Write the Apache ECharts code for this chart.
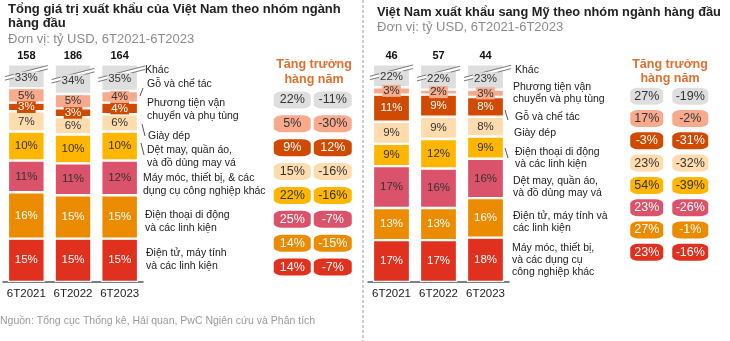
<!DOCTYPE html>
<html>
<head>
<meta charset="utf-8">
<script src="https://cdn.jsdelivr.net/npm/echarts@6/dist/echarts.min.js"></script>
<style>
  html, body { margin: 0; padding: 0; background: #fff; }
  #c { width: 730px; height: 341px; }
</style>
</head>
<body>
<div id="c"></div>
<script>
// ---- Data -------------------------------------------------------------
const years = ['6T2021', '6T2022', '6T2023'];

// Việt Nam: tổng xuất khẩu (tỷ USD) và cơ cấu theo nhóm ngành (%)
const vnTotals = [158, 186, 164];
const vnGroups = [
  'Khác',
  'Gỗ và chế tác',
  'Phương tiện vận\nchuyển và phụ tùng',
  'Giày dép',
  'Dệt may, quần áo,\nvà đồ dùng may vá',
  'Máy móc, thiết bị, & các\ndụng cụ công nghiệp khác',
  'Điện thoại di động\nvà các linh kiện',
  'Điện tử, máy tính\nvà các linh kiện'
];
const vnOther       = [33, 34, 35];
const vnWood        = [5, 5, 4];
const vnVehicles    = [3, 3, 4];
const vnFootwear    = [7, 6, 6];
const vnTextile     = [10, 10, 10];
const vnMachinery   = [11, 11, 12];
const vnPhones      = [16, 15, 15];
const vnElectronics = [15, 15, 15];
const vnGrowth22 = [22, 5, 9, 15, 22, 25, 14, 14];
const vnGrowth23 = [-11, -30, 12, -16, -16, -7, -15, -7];

// Xuất khẩu sang Mỹ: tổng (tỷ USD) và cơ cấu (%)
const usTotals = [46, 57, 44];
const usGroups = [
  'Khác',
  'Phương tiện vận\nchuyển và phụ tùng',
  'Gỗ và chế tác',
  'Giày dép',
  'Điện thoại di động\nvà các linh kiện',
  'Dệt may, quần áo,\nvà đồ dùng may vá',
  'Điện tử, máy tính và\ncác linh kiện',
  'Máy móc, thiết bị,\nvà các dụng cụ\ncông nghiệp khác'
];
const usOther       = [22, 22, 23];
const usVehicles    = [3, 2, 3];
const usWood        = [11, 9, 8];
const usFootwear    = [9, 9, 8];
const usPhones      = [9, 12, 9];
const usTextile     = [17, 16, 16];
const usElectronics = [13, 13, 16];
const usMachinery   = [17, 17, 18];
const usGrowth22 = [27, 17, -3, 23, 54, 23, 27, 23];
const usGrowth23 = [-19, -2, -31, -32, -39, -26, -1, -16];

// stack order, top segment first
const vnShares = [vnOther, vnWood, vnVehicles, vnFootwear, vnTextile, vnMachinery, vnPhones, vnElectronics];
const usShares = [usOther, usVehicles, usWood, usFootwear, usPhones, usTextile, usElectronics, usMachinery];

// ---- Styling ----------------------------------------------------------
const FONT = '"Liberation Sans", Arial, sans-serif';
const palette    = ['#DEDEDE', '#F7AA8C', '#D04A02', '#FEDCAE', '#FFB600', '#DB536A', '#EB8C00', '#E0301E'];
const barText    = ['#333', '#333', '#fff', '#333', '#333', '#333', '#fff', '#fff'];
const growthText = ['#333', '#333', '#fff', '#333', '#333', '#fff', '#fff', '#fff'];
const BAR_W = 0.79;

function barSeries(shares, xIdx, yIdx, stack) {
  const out = [];
  for (let k = shares.length - 1; k >= 0; k--) {
    out.push({
      type: 'bar', stack: stack, xAxisIndex: xIdx, yAxisIndex: yIdx,
      barWidth: (BAR_W * 100) + '%',
      data: shares[k],
      itemStyle: { color: palette[k], borderColor: '#fff', borderWidth: 1.2 },
      label: k === 0 ? { show: false } : {
        show: true, position: 'inside', formatter: '{c}%',
        fontFamily: FONT, fontSize: 11.5, color: barText[k],
        backgroundColor: palette[k], padding: [0, 1]
      },
      emphasis: { disabled: true }
    });
  }
  return out;
}

// break marks and value label on the truncated "Khác" segment
function breakSeries(shares, xIdx, yIdx) {
  const lastIdx = years.length - 1;
  return {
    type: 'custom', xAxisIndex: xIdx, yAxisIndex: yIdx, z: 5, clip: false,
    data: years.map((_, i) => [i, shares.slice(1).reduce((s, arr) => s + arr[i], 0), shares[0][i]]),
    renderItem: function (params, api) {
      const base = api.coord([api.value(0), api.value(1)]);
      const top = params.coordSys.y;
      const half = api.size([1, 0])[0] * BAR_W / 2;
      const xc = base[0];
      const yc = (base[1] + top) / 2;
      const xl = xc - half - 3;
      const xr = xc + half + (params.dataIndex === lastIdx ? 7 : 3);
      const slope = 0.26, gap = 3.5, ym = yc - 2;
      const yl = ym + slope * (xc - xl);
      const yr = ym - slope * (xr - xc);
      const lineStyle = { stroke: '#7a7a7a', lineWidth: 1 };
      return {
        type: 'group',
        children: [
          { type: 'polygon', shape: { points: [[xl, yl - gap], [xr, yr - gap], [xr, yr], [xl, yl]] }, style: { fill: '#fff' } },
          { type: 'line', shape: { x1: xl, y1: yl - gap, x2: xr, y2: yr - gap }, style: lineStyle },
          { type: 'line', shape: { x1: xl, y1: yl, x2: xr, y2: yr }, style: lineStyle },
          { type: 'text', x: xc, y: yc + 1, style: {
              text: api.value(2) + '%', fill: '#333', font: '11.5px ' + FONT,
              align: 'center', verticalAlign: 'middle',
              backgroundColor: palette[0], padding: [0, 1] } }
        ]
      };
    }
  };
}

function growthSeries(values, col, xIdx, yIdx, w) {
  return {
    type: 'scatter', xAxisIndex: xIdx, yAxisIndex: yIdx,
    symbol: 'roundRect', symbolSize: [w, 17],
    data: values.map((v, i) => ({
      value: [col, i, v],
      itemStyle: { color: palette[i], opacity: 1 },
      label: { color: growthText[i] }
    })),
    label: { show: true, position: 'inside', fontFamily: FONT, fontSize: 12.5,
             formatter: p => p.value[2] + '%' },
    emphasis: { disabled: true }
  };
}

function groupLabels(groups, xs, ys, lineH) {
  return groups.map((t, i) => ({
    type: 'text', x: xs[i], y: ys[i],
    style: { text: t, font: '10.5px ' + FONT, fill: '#222', lineHeight: lineH,
             align: 'left', verticalAlign: 'middle' }
  }));
}

function tick(x1, y1, x2, y2) {
  return { type: 'line', shape: { x1, y1, x2, y2 }, style: { stroke: '#555', lineWidth: 1 } };
}

const bottomAxis = (grid) => ({
  type: 'category', gridIndex: grid, data: years,
  axisLine: { lineStyle: { color: '#555', width: 1.5 } },
  axisTick: { show: false },
  axisLabel: { fontFamily: FONT, fontSize: 11.5, color: '#222', margin: 6, interval: 0 }
});
const topAxis = (grid, totals) => ({
  type: 'category', gridIndex: grid, position: 'top', data: totals.map(String),
  axisLine: { show: false }, axisTick: { show: false },
  axisLabel: { fontFamily: FONT, fontSize: 11, fontWeight: 'bold', color: '#111', margin: 4, interval: 0 }
});

const titleStyle = { fontFamily: FONT, fontSize: 13, fontWeight: 'bold', color: '#222', lineHeight: 14 };
const subStyle = { fontFamily: FONT, fontSize: 13, fontWeight: 'normal', color: '#8c8c8c', lineHeight: 14 };

const chart = echarts.init(document.getElementById('c'));
chart.setOption({
  animation: false,
  backgroundColor: '#fff',
  title: [
    { text: 'Tổng giá trị xuất khẩu của Việt Nam theo nhóm ngành\nhàng đầu', left: 8, top: 2, padding: 0, textStyle: titleStyle },
    { text: 'Đơn vị: tỷ USD, 6T2021-6T2023', left: 8, top: 32, padding: 0, textStyle: subStyle },
    { text: 'Việt Nam xuất khẩu sang Mỹ theo nhóm ngành hàng đầu', left: 377, top: 5, padding: 0,
      textStyle: Object.assign({}, titleStyle, { fontSize: 12.8 }) },
    { text: 'Đơn vị: tỷ USD, 6T2021-6T2023', left: 377, top: 20, padding: 0, textStyle: subStyle }
  ],
  grid: [
    { left: 3, top: 65, width: 140, bottom: 59 },
    { left: 368, top: 65, width: 141, bottom: 59 },
    { left: 272, top: 88, width: 81, height: 191 },
    { left: 625, top: 85, width: 87, height: 178.5 }
  ],
  xAxis: [
    bottomAxis(0), topAxis(0, vnTotals),
    bottomAxis(1), topAxis(1, usTotals),
    { type: 'category', gridIndex: 2, data: ['2022', '2023'], show: false },
    { type: 'category', gridIndex: 3, data: ['2022', '2023'], show: false }
  ],
  yAxis: [
    { type: 'value', gridIndex: 0, min: 0, max: 75, show: false },
    { type: 'value', gridIndex: 1, min: 0, max: 88, show: false },
    { type: 'category', gridIndex: 2, data: vnGroups, inverse: true, show: false },
    { type: 'category', gridIndex: 3, data: usGroups, inverse: true, show: false }
  ],
  series: [
    ...barSeries(vnShares, 0, 0, 'vn'),
    breakSeries(vnShares, 0, 0),
    ...barSeries(usShares, 2, 1, 'us'),
    breakSeries(usShares, 2, 1),
    growthSeries(vnGrowth22, 0, 4, 2, 37),
    growthSeries(vnGrowth23, 1, 4, 2, 38),
    growthSeries(usGrowth22, 0, 5, 3, 33),
    growthSeries(usGrowth23, 1, 5, 3, 36)
  ],
  graphic: [
    // panel separator
    { type: 'line', shape: { x1: 363, y1: 0, x2: 363, y2: 341 },
      style: { stroke: '#9a9a9a', lineWidth: 1, lineDash: [3, 2] } },
    // growth headers
    { type: 'text', x: 314, y: 72.5, style: { text: 'Tăng trưởng\nhàng năm', font: 'bold 12.5px ' + FONT,
      fill: '#E0702F', lineHeight: 15, align: 'center', verticalAlign: 'middle' } },
    { type: 'text', x: 670, y: 71.5, style: { text: 'Tăng trưởng\nhàng năm', font: 'bold 12.5px ' + FONT,
      fill: '#E0702F', lineHeight: 14, align: 'center', verticalAlign: 'middle' } },
    // group names
    ...groupLabels(vnGroups, [145, 147, 147, 148, 147, 143, 145, 146],
                   [70, 84, 109.5, 136, 156.5, 184.5, 222, 260], 13),
    ...groupLabels(usGroups, [515, 513, 515, 514, 515, 513, 513, 512],
                   [70, 93.5, 117, 133, 158.5, 187.5, 222.5, 260.5], 12),
    // leader ticks
    tick(140, 96, 143, 88), tick(142, 124, 145, 136), tick(141, 143, 144, 155),
    tick(505, 110, 508, 120), tick(505, 148, 508, 158),
    // source
    { type: 'text', x: 0, y: 321, style: { text: 'Nguồn: Tổng cục Thống kê, Hải quan, PwC Ngiên cứu và Phân tích',
      font: '10.5px ' + FONT, fill: '#9a9a9a', align: 'left', verticalAlign: 'middle' } }
  ]
});
</script>
</body>
</html>
